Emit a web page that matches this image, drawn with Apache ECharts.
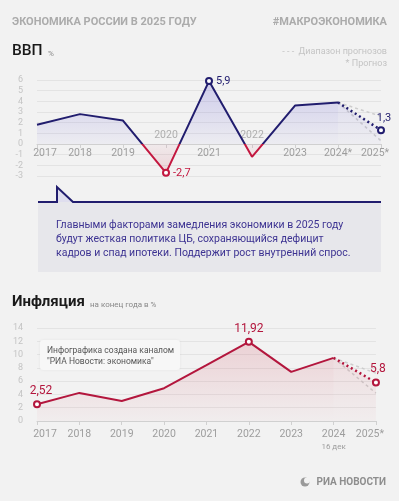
<!DOCTYPE html>
<html>
<head>
<meta charset="utf-8">
<script src="https://cdn.jsdelivr.net/npm/echarts@6/dist/echarts.min.js"></script>
<style>
html, body { margin: 0; padding: 0; background: #f2f2f2; }
#chart { width: 399px; height: 501px; }
</style>
</head>
<body>
<div id="chart"></div>
<script>
// ВВП, %
const gdpYears = ['2017', '2018', '2019', '2020', '2021', '2022', '2023', '2024*', '2025*'];
const gdpValues = [1.8, 2.8, 2.2, -2.7, 5.9, -1.2, 3.6, 3.9];
const gdpForecast = 1.3;
const gdpRange = [0.3, 2.6];          // диапазон прогнозов: низ, верх
const gdpMarked = ['2020', '2021'];   // точки с подписями
const gdpTicks = { min: -3, max: 6, step: 1 };

// Инфляция на конец года, %
const infYears = ['2017', '2018', '2019', '2020', '2021', '2022', '2023', '2024', '2025*'];
const infValues = [2.52, 4.23, 3.02, 4.94, 8.4, 11.92, 7.4, 9.5];
const infForecast = 5.8;
const infRange = [4.2, 7.2];
const infMarked = ['2017', '2022'];
const infTicks = { min: 0, max: 14, step: 2 };

const navy = '#211d6e';
const red = '#c3173f';
const crimson = '#b3163d';
const grayText = '#9d9d9d';
const font = 'Roboto';

const fmt = v => String(v).replace('.', ',');

var chartDom = document.getElementById('chart');
var myChart = echarts.init(chartDom);

// --- ВВП ---
const last = gdpValues.length - 1;
const gdpMax = Math.max(...gdpValues), gdpMin = Math.min(...gdpValues);
const zeroAt = gdpMax / (gdpMax - gdpMin);
const gdpGridHeight = 96;
// ось X ВВП проходит по нулю
const gdpAxisOffset = -gdpGridHeight * (0 - gdpTicks.min) / (gdpTicks.max - gdpTicks.min);

const gdpMain = gdpValues.map((v, i) => {
    if (gdpMarked.indexOf(gdpYears[i]) < 0) return v;
    return {
        value: v,
        symbol: 'emptyCircle',
        label: { show: true, position: 'right', distance: 3, formatter: p => fmt(p.value), color: v < 0 ? red : navy, fontSize: 11 }
    };
});
const gdpFc = gdpYears.map((y, i) => {
    if (i === last) return gdpValues[last];
    if (i === last + 1) return {
        value: gdpForecast,
        symbol: 'emptyCircle',
        label: { show: true, position: 'top', distance: 2, offset: [3, 0], formatter: p => fmt(p.value), color: navy, fontSize: 11 }
    };
    return null;
});
const rangeLine = (range, k) => gdpYears.map((y, i) => i === last ? gdpValues[last] : (i === last + 1 ? range[k] : null));
// подписи годов над осью там, где линия уходит ниже нуля
const gdpUpLabels = gdpYears.map((y, i) => gdpValues[i] < 0 ? 0 : '-');

// --- Инфляция ---
const iLast = infValues.length - 1;
const infMain = infValues.map((v, i) => {
    if (infMarked.indexOf(infYears[i]) < 0) return v;
    return {
        value: v,
        symbol: 'emptyCircle',
        label: { show: true, position: 'top', distance: 3, offset: [i === 0 ? 4 : 0, 0], formatter: p => fmt(p.value), color: crimson, fontSize: 12 }
    };
});
const infFc = infYears.map((y, i) => {
    if (i === iLast) return infValues[iLast];
    if (i === iLast + 1) return {
        value: infForecast,
        symbol: 'emptyCircle',
        label: { show: true, position: 'top', distance: 3, offset: [2, 0], formatter: p => fmt(p.value), color: crimson, fontSize: 12 }
    };
    return null;
});
const infRangeLine = (range, k) => infYears.map((y, i) => i === iLast ? infValues[iLast] : (i === iLast + 1 ? range[k] : null));

// крайние подписи чуть сдвинуты внутрь
function edgeLabel(val, idx, count) {
    if (idx === 0) return '{first|' + val + '}';
    if (idx === count - 1) return '{lastL|' + val + '}';
    return val;
}
const labelRich = {
    first: { padding: [0, 0, 0, 16], color: grayText, fontSize: 10.5 },
    lastL: { padding: [0, 12, 0, 0], color: grayText, fontSize: 10.5 },
    s: { fontSize: 8, color: grayText, lineHeight: 12 }
};

const xLabel = { color: grayText, fontSize: 10.5, fontFamily: font, interval: 0, rich: labelRich };
const yLabel = { color: '#c4c4c4', fontSize: 9, fontFamily: font, margin: 14 };
const split = { show: true, lineStyle: { color: '#e3e3e3', width: 1 } };
const dashedGray = { color: '#cdcdcd', width: 1.5, type: [3, 3] };

var option = {
    animation: false,
    backgroundColor: '#f2f2f2',
    textStyle: { fontFamily: font },
    grid: [
        { left: 37, right: 18, top: 80, height: gdpGridHeight },
        { left: 37, right: 18, top: 328, height: 93 }
    ],
    xAxis: [
        {
            type: 'category', gridIndex: 0, data: gdpYears, boundaryGap: false,
            position: 'bottom', offset: gdpAxisOffset,
            axisLine: { show: true, onZero: false, lineStyle: { color: '#d0d0d0' } },
            axisTick: { show: true, length: 4, lineStyle: { color: '#d0d0d0' } },
            axisLabel: Object.assign({}, xLabel, {
                margin: 4,
                formatter: (val, idx) => gdpValues[idx] < 0 ? '' : edgeLabel(val, idx, gdpYears.length)
            })
        },
        {
            type: 'category', gridIndex: 1, data: infYears, boundaryGap: false,
            axisLine: { show: true, lineStyle: { color: '#d0d0d0' } },
            axisTick: { show: true, length: 4, lineStyle: { color: '#d0d0d0' } },
            axisLabel: Object.assign({}, xLabel, {
                margin: 7,
                lineHeight: 13,
                formatter: (val, idx) => val === '2024' ? val + '\n{s|16 дек}' : edgeLabel(val, idx, infYears.length)
            })
        }
    ],
    yAxis: [
        {
            type: 'value', gridIndex: 0, min: gdpTicks.min, max: gdpTicks.max, interval: gdpTicks.step,
            axisLine: { show: false }, axisTick: { show: false },
            axisLabel: yLabel, splitLine: split
        },
        {
            type: 'value', gridIndex: 1, min: infTicks.min, max: infTicks.max, interval: infTicks.step,
            axisLine: { show: false }, axisTick: { show: false },
            axisLabel: yLabel, splitLine: split
        }
    ],
    visualMap: {
        show: false, type: 'piecewise', dimension: 1, seriesIndex: 0,
        pieces: [
            { gte: gdpTicks.min * 10, lt: 0, color: red },
            { gte: 0, lte: gdpTicks.max * 10, color: navy }
        ]
    },
    series: [
        {
            name: 'ВВП', type: 'line', xAxisIndex: 0, yAxisIndex: 0,
            data: gdpMain, symbol: 'none', symbolSize: 6,
            lineStyle: { width: 2 },
            itemStyle: { borderWidth: 2 },
            areaStyle: {
                color: new echarts.graphic.LinearGradient(0, 0, 0, 1, [
                    { offset: 0, color: 'rgba(80,70,210,0.32)' },
                    { offset: zeroAt, color: 'rgba(80,70,210,0.05)' },
                    { offset: zeroAt, color: 'rgba(200,40,70,0.06)' },
                    { offset: 1, color: 'rgba(200,40,70,0.22)' }
                ])
            },
            z: 3
        },
        {
            name: 'ВВП прогноз', type: 'line', xAxisIndex: 0, yAxisIndex: 0,
            data: gdpFc, symbol: 'none', symbolSize: 6,
            lineStyle: { width: 2.5, color: navy, type: [2, 3] },
            itemStyle: { color: navy, borderWidth: 2 },
            areaStyle: {
                color: new echarts.graphic.LinearGradient(0, 0, 0, 1, [
                    { offset: 0, color: 'rgba(80,70,210,0.16)' },
                    { offset: 1, color: 'rgba(80,70,210,0.04)' }
                ])
            },
            z: 4
        },
        {
            name: 'ВВП верх', type: 'line', xAxisIndex: 0, yAxisIndex: 0,
            data: rangeLine(gdpRange, 1), symbol: 'none', lineStyle: dashedGray, z: 2
        },
        {
            name: 'ВВП низ', type: 'line', xAxisIndex: 0, yAxisIndex: 0,
            data: rangeLine(gdpRange, 0), symbol: 'none', lineStyle: dashedGray, z: 2
        },
        {
            name: 'годы', type: 'scatter', xAxisIndex: 0, yAxisIndex: 0,
            data: gdpUpLabels, symbolSize: 0,
            label: { show: true, position: 'top', distance: 3, formatter: p => gdpYears[p.dataIndex], color: grayText, fontSize: 10.5 },
            z: 1
        },
        {
            name: 'Инфляция', type: 'line', xAxisIndex: 1, yAxisIndex: 1,
            data: infMain, symbol: 'none', symbolSize: 6,
            lineStyle: { width: 2, color: crimson },
            itemStyle: { color: crimson, borderWidth: 2 },
            areaStyle: {
                color: new echarts.graphic.LinearGradient(0, 0, 0, 1, [
                    { offset: 0, color: 'rgba(205,60,80,0.26)' },
                    { offset: 1, color: 'rgba(205,60,80,0.04)' }
                ])
            },
            z: 3
        },
        {
            name: 'Инфляция прогноз', type: 'line', xAxisIndex: 1, yAxisIndex: 1,
            data: infFc, symbol: 'none', symbolSize: 6,
            lineStyle: { width: 2.5, color: crimson, type: [2, 3] },
            itemStyle: { color: crimson, borderWidth: 2 },
            areaStyle: {
                color: new echarts.graphic.LinearGradient(0, 0, 0, 1, [
                    { offset: 0, color: 'rgba(205,60,80,0.16)' },
                    { offset: 1, color: 'rgba(205,60,80,0.04)' }
                ])
            },
            z: 4
        },
        {
            name: 'Инфляция верх', type: 'line', xAxisIndex: 1, yAxisIndex: 1,
            data: infRangeLine(infRange, 1), symbol: 'none', lineStyle: dashedGray, z: 2
        },
        {
            name: 'Инфляция низ', type: 'line', xAxisIndex: 1, yAxisIndex: 1,
            data: infRangeLine(infRange, 0), symbol: 'none', lineStyle: dashedGray, z: 2
        }
    ],
    graphic: [
        // шапка
        { type: 'text', left: 12, top: 17, style: { text: 'ЭКОНОМИКА РОССИИ В 2025 ГОДУ', font: 'bold 11px Roboto', fill: '#ababab' } },
        { type: 'text', right: 12, top: 17, style: { text: '#МАКРОЭКОНОМИКА', font: 'bold 11px Roboto', fill: '#ababab' } },
        { type: 'text', left: 12, top: 43, style: { text: 'ВВП', font: '500 15.5px Roboto', fill: '#1a1a1a' } },
        { type: 'text', left: 48, top: 50, style: { text: '%', font: '8px Roboto', fill: '#888' } },
        { type: 'text', right: 12, top: 47, style: { text: '- - -  Диапазон прогнозов', font: '9px Roboto', fill: '#c4c4c4' } },
        { type: 'text', right: 12, top: 59, style: { text: '* Прогноз', font: '9px Roboto', fill: '#c4c4c4' } },

        // плашка с комментарием
        { type: 'rect', shape: { x: 38, y: 202, width: 343, height: 70 }, style: { fill: '#e7e7eb' }, z: 1 },
        { type: 'polygon', shape: { points: [[57, 202], [57, 187], [73, 202]] }, style: { fill: 'rgba(90,80,210,0.12)' }, z: 1 },
        { type: 'polyline', shape: { points: [[38, 202], [57, 202], [57, 187], [73, 202], [381, 202]] }, style: { stroke: navy, lineWidth: 2, fill: null }, z: 2 },
        {
            type: 'text', left: 56, top: 218, z: 2,
            style: {
                text: 'Главными факторами замедления экономики в 2025 году\nбудут жесткая политика ЦБ, сохраняющийся дефицит\nкадров и спад ипотеки. Поддержит рост внутренний спрос.',
                font: '10.5px Roboto', fill: '#3d3392', lineHeight: 14
            }
        },

        // инфляция
        { type: 'text', left: 12, top: 295, style: { text: 'Инфляция', font: 'bold 15px Roboto', fill: '#1a1a1a' } },
        { type: 'text', left: 90, top: 301, style: { text: 'на конец года в %', font: '8px Roboto', fill: '#888' } },
        {
            type: 'rect', shape: { x: 40, y: 340, width: 140, height: 30, r: 3 }, z: 10,
            style: { fill: '#f7f7f7', shadowBlur: 3, shadowColor: 'rgba(0,0,0,0.06)' }
        },
        {
            type: 'text', left: 47, top: 346, z: 11,
            style: { text: 'Инфографика создана каналом\n"РИА Новости: экономика"', font: '8.5px Roboto', fill: '#555', lineHeight: 10.5 }
        },

        // подвал
        { type: 'circle', shape: { cx: 305, cy: 482, r: 4.5 }, style: { fill: '#9a9a9a' } },
        { type: 'circle', shape: { cx: 307, cy: 480.5, r: 3 }, style: { fill: '#f2f2f2' } },
        { type: 'text', right: 13, top: 477, style: { text: 'РИА НОВОСТИ', font: 'bold 10px Roboto', fill: '#8e8e8e' } }
    ]
};
myChart.setOption(option);
</script>
</body>
</html>
